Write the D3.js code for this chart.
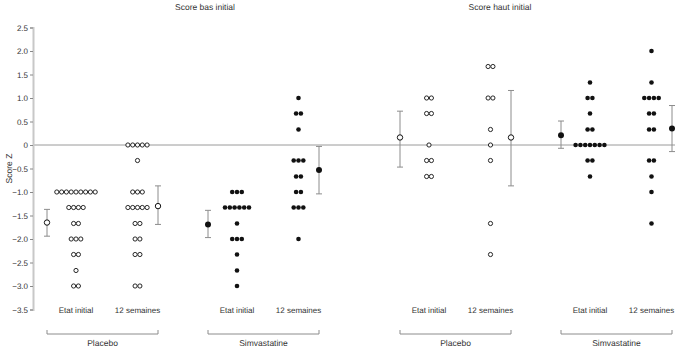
<!DOCTYPE html>
<html>
<head>
<meta charset="utf-8">
<script src="https://cdn.jsdelivr.net/npm/d3@7"></script>
<style>
  body { margin: 0; background: #fff; }
  text { font-family: "Liberation Sans", Arial, sans-serif; fill: #333; text-rendering: geometricPrecision; font-variant-ligatures: none; }
</style>
</head>
<body>
<div id="chart"></div>
<script>
// panels / groups / timepoints
const panels = ["Score bas initial", "Score haut initial"]
const groups = ["Placebo", "Simvastatine"]
const timepoints = ["Etat initial", "12 semaines"]
const yTicks = [2.5, 2, 1.5, 1, 0.5, 0, -0.5, -1, -1.5, -2, -2.5, -3, -3.5]

// individual scores, one array per column
const lowPlaceboInit = [-1, -1, -1, -1, -1, -1, -1, -1, -1, -1.33, -1.33, -1.33, -1.33, -1.67, -1.67, -2, -2, -2, -2.33, -2.33, -2.67, -3, -3]
const lowPlacebo12 = [0, 0, 0, 0, 0, -0.33, -1, -1, -1, -1.33, -1.33, -1.33, -1.33, -1.33, -1.67, -1.67, -2, -2, -2.33, -2.33, -3, -3]
const lowSimvaInit = [-1, -1, -1, -1.33, -1.33, -1.33, -1.33, -1.33, -1.33, -1.67, -2, -2, -2, -2.33, -2.67, -3]
const lowSimva12 = [1, 0.67, 0.67, 0.33, -0.33, -0.33, -0.33, -0.67, -0.67, -1, -1, -1.33, -1.33, -1.33, -2]
const highPlaceboInit = [1, 1, 0.67, 0.67, 0, -0.33, -0.33, -0.67, -0.67]
const highPlacebo12 = [1.67, 1.67, 1, 1, 0.33, 0, -0.33, -1.67, -2.33]
const highSimvaInit = [1.33, 1, 1, 0.67, 0.33, 0.33, 0, 0, 0, 0, 0, 0, 0, -0.33, -0.33, -0.67]
const highSimva12 = [2, 1.33, 1, 1, 1, 1, 0.67, 0.67, 0.33, 0.33, -0.33, -0.33, -0.67, -1, -1.67]

// mean and interval per column (same order)
const means = [-1.65, -1.30, -1.69, -0.53, 0.16, 0.16, 0.21, 0.35]
const lower = [-1.94, -1.69, -1.97, -1.04, -0.47, -0.87, -0.07, -0.14]
const upper = [-1.37, -0.87, -1.39, -0.03, 0.72, 1.16, 0.51, 0.84]

const W = 675, H = 348
const axisX = 33
const groupStart = [47, 208, 400, 561]   // left end of each group bracket
const offs = {meanInit: 0, init: 29, fin: 90.5, meanFin: 111}

const columns = [lowPlaceboInit, lowPlacebo12, lowSimvaInit, lowSimva12,
                 highPlaceboInit, highPlacebo12, highSimvaInit, highSimva12]

var svg = d3.select("#chart").append("svg")
    .attr("width", W).attr("height", H)

var y = d3.scaleLinear().domain([-3.5, 2.5]).range([309.5, 27.5])

// zero line
svg.append("line")
    .attr("x1", axisX).attr("x2", W)
    .attr("y1", y(0)).attr("y2", y(0))
    .attr("stroke", "#9a9a9a").attr("stroke-width", 1)

// y axis
var fmt = d => d === 0 ? "0" : d3.format(".1f")(d).replace("-", "\u2212")
var yAxis = svg.append("g")
    .attr("transform", `translate(${axisX},0)`)
    .call(d3.axisLeft(y).tickValues(yTicks).tickFormat(fmt).tickSize(3).tickPadding(2))
yAxis.select(".domain").attr("stroke", "#c8c8c8").attr("stroke-width", 2)
yAxis.selectAll(".tick line").attr("stroke", "#888")
yAxis.selectAll(".tick text").attr("font-size", 8).attr("fill", "#333")
    .style("font-family", "Liberation Sans, Arial, sans-serif")

svg.append("text")
    .attr("transform", `translate(12,${y(-0.5)}) rotate(-90)`)
    .attr("text-anchor", "middle")
    .attr("font-size", 8.5)
    .text("Score Z")

// panel titles
svg.selectAll(".ptitle")
    .data(panels)
    .join("text")
    .attr("x", (d, i) => [205, 500][i])
    .attr("y", 10)
    .attr("text-anchor", "middle")
    .attr("font-size", 8.5)
    .text(d => d)

var rowStep = 4.8
groupStart.forEach((g, gi) => {
    var filled = gi % 2 === 1
    var fill = filled ? "#111" : "#fff"
    var ci = gi * 2
    var colX = [g + offs.init, g + offs.fin]
    var meanX = [g + offs.meanInit, g + offs.meanFin]

    // dots, laid out in centred rows per value
    colX.forEach((cx, k) => {
        var vals = columns[ci + k]
        var rows = d3.group(vals, v => v)
        var pts = []
        rows.forEach((arr, v) => {
            arr.forEach((_, j) => pts.push({v: v, x: cx + (j - (arr.length - 1) / 2) * rowStep}))
        })
        svg.append("g").selectAll("circle")
            .data(pts)
            .join("circle")
            .attr("cx", d => d.x)
            .attr("cy", d => y(d.v))
            .attr("r", filled ? 2.3 : 2.1)
            .attr("fill", fill)
            .attr("stroke", filled ? "none" : "#111")
            .attr("stroke-width", 0.9)

        // timepoint label
        svg.append("text")
            .attr("x", cx).attr("y", 313)
            .attr("text-anchor", "middle")
            .attr("font-size", 8)
            .text(timepoints[k])
    })

    // means with error bars
    meanX.forEach((mx, k) => {
        var i = ci + k
        var eb = svg.append("g").attr("stroke", "#8c8c8c").attr("stroke-width", 1)
        eb.append("line").attr("x1", mx).attr("x2", mx).attr("y1", y(upper[i])).attr("y2", y(lower[i]))
        eb.append("line").attr("x1", mx - 3).attr("x2", mx + 3).attr("y1", y(upper[i])).attr("y2", y(upper[i]))
        eb.append("line").attr("x1", mx - 3).attr("x2", mx + 3).attr("y1", y(lower[i])).attr("y2", y(lower[i]))
        svg.append("circle")
            .attr("cx", mx).attr("cy", y(means[i]))
            .attr("r", filled ? 3 : 2.7)
            .attr("fill", fill)
            .attr("stroke", "#111")
            .attr("stroke-width", filled ? 0 : 1)
    })

    // group bracket
    var x0 = g + offs.meanInit, x1 = g + offs.meanFin
    svg.append("path")
        .attr("d", `M${x0},330V334H${x1}V330`)
        .attr("fill", "none").attr("stroke", "#8c8c8c").attr("stroke-width", 1)
    svg.append("text")
        .attr("x", (x0 + x1) / 2).attr("y", 346)
        .attr("text-anchor", "middle")
        .attr("font-size", 8.5)
        .text(groups[gi % 2])
})
</script>
</body>
</html>
